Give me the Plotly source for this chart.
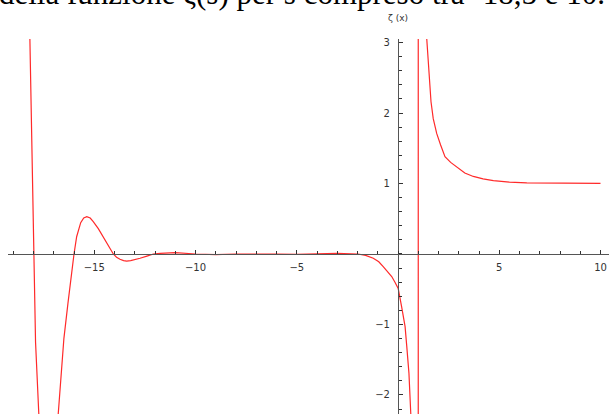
import plotly.graph_objects as go

# values (zeta(s) for s in [-18.5, 10])
s_values = [-18.5, -18.3, -18.17, -18.07, -18.0, -17.9, -17.74, -17.5, -17.26, -17.0,
            -16.78, -16.5, -16.3, -16.16, -16.06, -16.0, -15.87, -15.77, -15.67, -15.52,
            -15.37, -15.2, -15.05, -14.8, -14.55, -14.3, -14.06, -13.9, -13.73, -13.55,
            -13.4, -13.2, -13.05, -12.74, -12.4, -12.08, -11.75,
            -11.0, -10.0, -9.0, -8.0, -7.0, -6.0, -5.0, -4.0, -3.0, -1.98,
            -1.6, -1.22, -0.95, -0.73, -0.5, -0.31, -0.15, 0.01, 0.18, 0.35, 0.43, 0.54, 0.63,
            0.7, 0.8, 0.9, 0.999, 1.001, 1.1, 1.2, 1.3, 1.42, 1.5,
            1.63, 1.74, 1.91, 2.1, 2.32, 2.6, 2.98, 3.3, 3.72, 4.2, 4.71, 5.5, 6.36, 8.0, 10.0]
zeta_values = [8.0, 4.9, 3.04, 1.62, 0.0, -1.25, -2.26, -3.2, -3.6, -3.1,
               -2.27, -1.2, -0.7, -0.37, -0.085, 0.0, 0.245, 0.36, 0.444, 0.51,
               0.53, 0.51, 0.46, 0.36, 0.245, 0.12, 0.0, -0.045, -0.075, -0.093,
               -0.10, -0.095, -0.085, -0.06, -0.03, 0.0, 0.01,
               0.02, 0.0, -0.008, 0.0, 0.004, 0.0, -0.004, 0.0, 0.008, 0.0,
               -0.02, -0.06, -0.11, -0.18, -0.25, -0.32, -0.40, -0.49, -0.75, -1.03, -1.30, -1.69, -2.26,
               -2.9, -4.4, -9.4, -1000.0, 1000.0, 10.6, 5.6, 3.9, 3.05, 2.68,
               2.16, 1.92, 1.71, 1.55, 1.38, 1.30, 1.22, 1.15, 1.10, 1.065, 1.04, 1.02, 1.01, 1.004, 1.001]

x_tick_vals = [-15, -10, -5, 5, 10]
x_tick_text = ["\u221215", "\u221210", "\u22125", "5", "10"]
y_tick_vals = [-2, -1, 1, 2, 3]
y_tick_text = ["\u22122", "\u22121", "1", "2", "3"]

x_range = [-19.26, 10.42]
y_range = [-2.27, 3.05]

W, H = 609, 414
x_dom = [8 / W, 1.0]

axis_col = "#555555"
tick_font = dict(family="DejaVu Sans", size=10, color="#333333")

fig = go.Figure()
fig.add_trace(go.Scatter(
    x=s_values, y=zeta_values, mode="lines",
    line=dict(color="#ff2a2a", width=1.2),
    hoverinfo="skip", showlegend=False,
))

# positions where the axes cross zero
y_axis_pos = x_dom[0] + (0 - x_range[0]) / (x_range[1] - x_range[0]) * (x_dom[1] - x_dom[0])
x_axis_pos = (0 - y_range[0]) / (y_range[1] - y_range[0])

fig.update_layout(
    width=W, height=H,
    margin=dict(l=0, r=0, t=39, b=0, autoexpand=False),
    paper_bgcolor="white", plot_bgcolor="white",
    xaxis=dict(
        range=x_range, domain=x_dom, anchor="free", position=x_axis_pos,
        showline=True, linecolor=axis_col, linewidth=1.2,
        showgrid=False, zeroline=False, automargin=False,
        tickmode="array", tickvals=x_tick_vals, ticktext=x_tick_text,
        ticks="inside", ticklen=4, tickwidth=1, tickcolor="#333333",
        minor=dict(tickmode="linear", tick0=0, dtick=1, ticks="inside",
                   ticklen=2.5, tickwidth=1, tickcolor="#333333"),
        tickfont=tick_font, ticklabelstandoff=4,
    ),
    yaxis=dict(
        range=y_range, domain=[0, 1], anchor="free", position=y_axis_pos,
        showline=True, linecolor=axis_col, linewidth=1.2,
        showgrid=False, zeroline=False, automargin=False,
        tickmode="array", tickvals=y_tick_vals, ticktext=y_tick_text,
        ticks="inside", ticklen=4, tickwidth=1, tickcolor="#333333",
        minor=dict(tickmode="linear", tick0=0, dtick=0.2, ticks="inside",
                   ticklen=2.5, tickwidth=1, tickcolor="#333333"),
        tickfont=tick_font, ticklabelstandoff=6,
    ),
    annotations=[
        dict(text="\u03b6 (x)", xref="paper", yref="paper",
             x=y_axis_pos, y=1 + (39 - 18) / 375, xanchor="center", yanchor="middle",
             showarrow=False, font=dict(family="DejaVu Sans", size=9, color="#333333")),
        dict(text="della funzione \u03b6(s) per s compreso tra -18,5 e 10.",
             xref="paper", yref="paper", x=607 / W, y=1 + (39 - 13) / 375,
             xanchor="right", yanchor="bottom", showarrow=False,
             font=dict(family="Liberation Serif", size=31, color="black")),
    ],
)

fig.write_html("out.html", config={"displayModeBar": False},
               post_script="document.body.style.margin='0';document.body.style.overflow='hidden';")
